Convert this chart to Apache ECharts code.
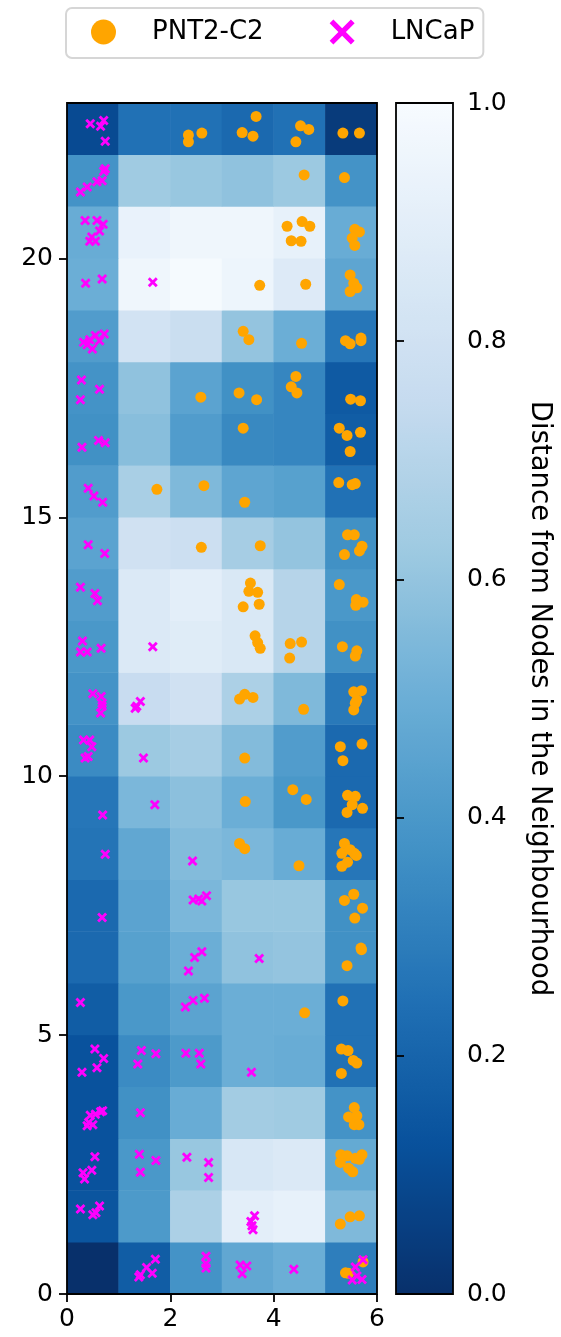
<!DOCTYPE html>
<html>
<head>
<meta charset="utf-8">
<script src="https://cdn.jsdelivr.net/npm/echarts@6/dist/echarts.min.js"></script>
<style>
  html, body { margin: 0; padding: 0; background: #ffffff; }
  #chart { width: 561px; height: 1337px; }
</style>
</head>
<body>
<div id="chart"></div>
<script>
// Node columns (x) and rows (y) of the map grid
const nodeCols = [0, 1, 2, 3, 4, 5];
const nodeRows = Array.from({ length: 23 }, (_, i) => i);

// Neighbourhood distance per node, one list per row, bottom row first
const row00 = [0.00, 0.17, 0.38, 0.47, 0.50, 0.30];
const row01 = [0.14, 0.41, 0.67, 0.90, 0.92, 0.55];
const row02 = [0.13, 0.40, 0.61, 0.84, 0.86, 0.48];
const row03 = [0.13, 0.37, 0.49, 0.64, 0.63, 0.38];
const row04 = [0.13, 0.35, 0.41, 0.50, 0.49, 0.25];
const row05 = [0.17, 0.40, 0.45, 0.50, 0.50, 0.25];
const row06 = [0.22, 0.44, 0.50, 0.59, 0.60, 0.37];
const row07 = [0.22, 0.45, 0.54, 0.61, 0.61, 0.37];
const row08 = [0.26, 0.47, 0.56, 0.54, 0.49, 0.27];
const row09 = [0.27, 0.54, 0.58, 0.50, 0.40, 0.22];
const row10 = [0.35, 0.62, 0.65, 0.56, 0.42, 0.22];
const row11 = [0.38, 0.76, 0.80, 0.67, 0.55, 0.28];
const row12 = [0.40, 0.86, 0.88, 0.85, 0.70, 0.37];
const row13 = [0.42, 0.86, 0.90, 0.85, 0.70, 0.40];
const row14 = [0.45, 0.80, 0.78, 0.65, 0.60, 0.37];
const row15 = [0.42, 0.66, 0.55, 0.46, 0.44, 0.25];
const row16 = [0.37, 0.57, 0.42, 0.34, 0.33, 0.17];
const row17 = [0.38, 0.59, 0.45, 0.37, 0.33, 0.16];
const row18 = [0.42, 0.81, 0.77, 0.60, 0.50, 0.27];
const row19 = [0.50, 0.96, 0.99, 0.95, 0.87, 0.46];
const row20 = [0.49, 0.93, 0.96, 0.96, 0.92, 0.49];
const row21 = [0.38, 0.63, 0.61, 0.59, 0.62, 0.38];
const row22 = [0.10, 0.25, 0.25, 0.22, 0.25, 0.04];
const distanceRows = [row00, row01, row02, row03, row04, row05, row06, row07,
  row08, row09, row10, row11, row12, row13, row14, row15, row16, row17, row18,
  row19, row20, row21, row22];

// Samples placed on the map, [x, y]
const pnt2c2Points = [
  [2.35,22.38],[2.35,22.25],[2.61,22.42],[3.66,22.74],[3.39,22.43],[3.60,22.36],[4.52,22.56],[4.68,22.49],[4.43,22.25],[5.34,22.42],[5.66,22.42],
  [4.59,21.61],[5.37,21.56],
  [4.26,20.62],[4.55,20.71],[4.70,20.62],[4.34,20.34],[4.53,20.33],[5.57,20.56],[5.66,20.51],[5.52,20.39],[5.57,20.25],
  [3.73,19.48],[4.62,19.50],[5.48,19.68],[5.55,19.52],[5.61,19.43],[5.48,19.36],
  [3.41,18.59],[3.52,18.43],[4.54,18.36],[5.39,18.41],[5.48,18.35],[5.69,18.46],[5.69,18.41],
  [2.59,17.32],[3.33,17.40],[3.67,17.27],[4.43,17.72],[4.34,17.52],[4.45,17.40],[5.49,17.28],[5.68,17.25],
  [3.41,16.72],[5.27,16.72],[5.42,16.58],[5.68,16.64],[5.48,16.27],
  [1.74,15.54],[2.65,15.61],[3.44,15.29],[5.26,15.67],[5.52,15.63],[5.58,15.65],
  [2.60,14.42],[3.74,14.45],[5.43,14.66],[5.56,14.66],[5.71,14.44],[5.66,14.35],[5.37,14.28],
  [3.55,13.73],[3.52,13.57],[3.69,13.55],[3.72,13.32],[3.41,13.27],[5.27,13.70],[5.60,13.41],[5.73,13.36],[5.59,13.30],
  [3.64,12.71],[3.69,12.58],[3.74,12.47],[4.32,12.56],[4.54,12.59],[4.31,12.28],[5.33,12.50],[5.61,12.42],[5.58,12.32],
  [3.34,11.49],[3.44,11.58],[3.60,11.52],[4.58,11.29],[5.55,11.63],[5.70,11.65],[5.61,11.47],[5.55,11.28],[5.58,11.41],
  [3.44,10.35],[5.29,10.57],[5.71,10.62],[5.34,10.30],
  [3.45,9.51],[4.37,9.74],[4.63,9.55],[5.43,9.63],[5.58,9.61],[5.52,9.45],[5.42,9.30],[5.72,9.38],
  [3.34,8.70],[3.44,8.60],[4.49,8.27],[5.37,8.70],[5.32,8.51],[5.56,8.51],[5.43,8.34],[5.32,8.26],[5.48,8.58],[5.60,8.47],
  [5.37,7.60],[5.55,7.72],[5.72,7.45],[5.57,7.26],
  [5.69,6.68],[5.70,6.65],[5.42,6.34],
  [5.34,5.66],[4.60,5.43],
  [5.31,4.73],[5.44,4.70],[5.54,4.51],[5.61,4.46],[5.31,4.26],
  [5.56,3.60],[5.45,3.42],[5.61,3.44],[5.56,3.27],[5.65,3.27],
  [5.30,2.69],[5.42,2.67],[5.58,2.62],[5.71,2.69],[5.66,2.60],[5.29,2.54],[5.45,2.43],[5.53,2.36],
  [5.29,1.35],[5.48,1.49],[5.66,1.51],
  [5.39,0.41],[5.45,0.40],[5.73,0.62]
];

const lncapPoints = [
  [0.45,22.60],[0.71,22.66],[0.65,22.55],[0.74,22.26],
  [0.74,21.73],[0.71,21.68],[0.58,21.48],[0.68,21.50],[0.39,21.38],[0.26,21.28],
  [0.35,20.73],[0.58,20.73],[0.70,20.66],[0.63,20.53],[0.48,20.41],[0.44,20.33],[0.55,20.33],
  [0.36,19.52],[0.68,19.60],[1.66,19.54],
  [0.32,18.38],[0.44,18.43],[0.55,18.51],[0.72,18.54],[0.63,18.41],[0.49,18.25],[0.39,18.33],
  [0.28,17.65],[0.63,17.47],[0.26,17.27],
  [0.29,16.35],[0.61,16.48],[0.74,16.44],
  [0.41,15.56],[0.52,15.41],[0.69,15.29],
  [0.41,14.47],[0.73,14.30],
  [0.26,13.65],[0.54,13.53],[0.59,13.39],
  [0.30,12.61],[0.26,12.40],[0.39,12.40],[0.66,12.47],[1.66,12.50],
  [0.50,11.59],[0.66,11.54],[0.68,11.41],[0.68,11.35],[0.65,11.22],[1.35,11.35],[1.42,11.44],[1.32,11.31],
  [0.32,10.70],[0.44,10.70],[0.48,10.57],[0.35,10.35],[0.41,10.38],[1.48,10.35],
  [0.69,9.25],[1.70,9.45],
  [0.74,8.49],[2.43,8.36],
  [0.68,7.27],[2.44,7.61],[2.55,7.63],[2.70,7.69],[2.61,7.59],
  [2.47,6.50],[2.61,6.61],[2.35,6.24],[3.72,6.48],
  [0.26,5.63],[2.29,5.54],[2.44,5.67],[2.66,5.71],
  [0.54,4.73],[0.71,4.55],[0.58,4.37],[0.29,4.28],[1.44,4.70],[1.72,4.64],[1.37,4.44],[2.30,4.65],[2.56,4.65],[2.59,4.44],[3.57,4.28],
  [0.45,3.45],[0.55,3.47],[0.65,3.52],[0.69,3.54],[0.39,3.25],[0.50,3.27],[0.42,3.31],[1.42,3.50],
  [0.54,2.65],[0.31,2.34],[0.48,2.39],[0.34,2.22],[1.40,2.70],[1.72,2.58],[1.42,2.35],[2.32,2.64],[2.74,2.54],[2.74,2.25],
  [0.26,1.64],[0.50,1.53],[0.56,1.57],[0.63,1.70],[3.63,1.51],[3.56,1.40],[3.60,1.24],[3.58,1.32],
  [1.71,0.67],[1.54,0.51],[1.42,0.37],[1.65,0.40],[1.39,0.33],[2.69,0.73],[2.69,0.59],[2.69,0.50],[3.35,0.56],[3.48,0.54],[3.39,0.39],[4.39,0.48],[5.58,0.52],[5.73,0.66],[5.52,0.27],[5.71,0.28],[5.61,0.35]
];

// Tick positions
const xTicks = [0, 2, 4, 6];
const yTicks = [0, 5, 10, 15, 20];
const colorbarTicks = [0, 0.2, 0.4, 0.6, 0.8, 1.0];

// Reversed "Blues" ramp: low distance dark, high distance light
const bluesReversed = ['#08306b', '#08519c', '#2171b5', '#4292c6', '#6baed6',
  '#9ecae1', '#c6dbef', '#deebf7', '#f7fbff'];

const heatData = [];
distanceRows.forEach((row, y) => row.forEach((v, x) => heatData.push([x, y, v])));

const FONT = 'DejaVu Sans';
const crossPath = 'path://M2,0 L5,3 L8,0 L10,2 L7,5 L10,8 L8,10 L5,7 L2,10 L0,8 L3,5 L0,2 Z';
const thinCrossPath = 'path://M1.5,0 L5,3.5 L8.5,0 L10,1.5 L6.5,5 L10,8.5 L8.5,10 L5,6.5 L1.5,10 L0,8.5 L3.5,5 L0,1.5 Z';

const tickLine = { show: true, inside: false, length: 8, lineStyle: { color: '#000', width: 1.8 } };
const tickLabel = { color: '#000', fontFamily: FONT, fontSize: 25 };

const chart = echarts.init(document.getElementById('chart'), null, { renderer: 'canvas' });

chart.setOption({
  animation: false,
  backgroundColor: '#ffffff',
  legend: {
    left: 66, top: 8,
    orient: 'horizontal',
    padding: [11, 9, 13, 25],
    itemWidth: 25, itemHeight: 25,
    itemGap: 66,
    borderColor: '#d6d6d6', borderWidth: 2, borderRadius: 6,
    backgroundColor: '#ffffff',
    textStyle: { color: '#000', fontFamily: FONT, fontSize: 26, padding: [0, 0, 0, 31] },
    data: [
      { name: 'PNT2-C2', icon: 'circle', itemStyle: { color: '#ffa500' } },
      { name: 'LNCaP', icon: thinCrossPath, itemStyle: { color: '#ff00ff' } }
    ]
  },
  grid: [
    { left: 67, top: 103, width: 310, height: 1191, show: true, z: 10,
      backgroundColor: 'transparent', borderColor: '#000', borderWidth: 1.8 },
    { left: 396, top: 103, width: 57, height: 1191, show: true, z: 10,
      backgroundColor: 'transparent', borderColor: '#000', borderWidth: 1.8 }
  ],
  xAxis: [
    { type: 'value', gridIndex: 0, min: 0, max: 6, interval: 2,
      axisLine: { show: false }, splitLine: { show: false },
      axisTick: Object.assign({ customValues: xTicks }, tickLine),
      axisLabel: Object.assign({ margin: 13, customValues: xTicks }, tickLabel) },
    { type: 'category', gridIndex: 0, data: nodeCols, show: false },
    { type: 'value', gridIndex: 1, min: 0, max: 1, show: false }
  ],
  yAxis: [
    { type: 'value', gridIndex: 0, min: 0, max: 23, interval: 5,
      axisLine: { show: false }, splitLine: { show: false },
      axisTick: Object.assign({ customValues: yTicks }, tickLine),
      axisLabel: Object.assign({ margin: 14, customValues: yTicks }, tickLabel) },
    { type: 'category', gridIndex: 0, data: nodeRows, show: false },
    { type: 'value', gridIndex: 1, position: 'right', min: 0, max: 1, interval: 0.2, z: 10,
      axisLine: { show: false }, splitLine: { show: false },
      axisTick: Object.assign({ customValues: colorbarTicks }, tickLine),
      axisLabel: Object.assign({ margin: 14, customValues: colorbarTicks,
        formatter: v => v.toFixed(1) }, tickLabel),
      name: 'Distance from Nodes in the Neighbourhood',
      nameLocation: 'middle', nameRotate: -90, nameGap: 72,
      nameTextStyle: { color: '#000', fontFamily: FONT, fontSize: 27.5 } }
  ],
  visualMap: {
    type: 'continuous',
    seriesIndex: 0,
    min: 0, max: 1,
    orient: 'vertical',
    left: 396, top: 103,
    itemWidth: 57, itemHeight: 1191,
    padding: 0,
    calculable: false,
    hoverLink: false,
    z: 2,
    inRange: { color: bluesReversed }
  },
  series: [
    {
      type: 'heatmap',
      xAxisIndex: 1, yAxisIndex: 1,
      data: heatData,
      itemStyle: { borderWidth: 0 },
      emphasis: { disabled: true },
      z: 1
    },
    {
      name: 'PNT2-C2',
      type: 'scatter',
      xAxisIndex: 0, yAxisIndex: 0,
      data: pnt2c2Points,
      symbol: 'circle', symbolSize: 11,
      itemStyle: { color: '#ffa500', opacity: 1 },
      z: 3
    },
    {
      name: 'LNCaP',
      type: 'scatter',
      xAxisIndex: 0, yAxisIndex: 0,
      data: lncapPoints,
      symbol: crossPath, symbolSize: 10,
      itemStyle: { color: '#ff00ff', opacity: 1 },
      z: 4
    }
  ]
});
</script>
</body>
</html>
